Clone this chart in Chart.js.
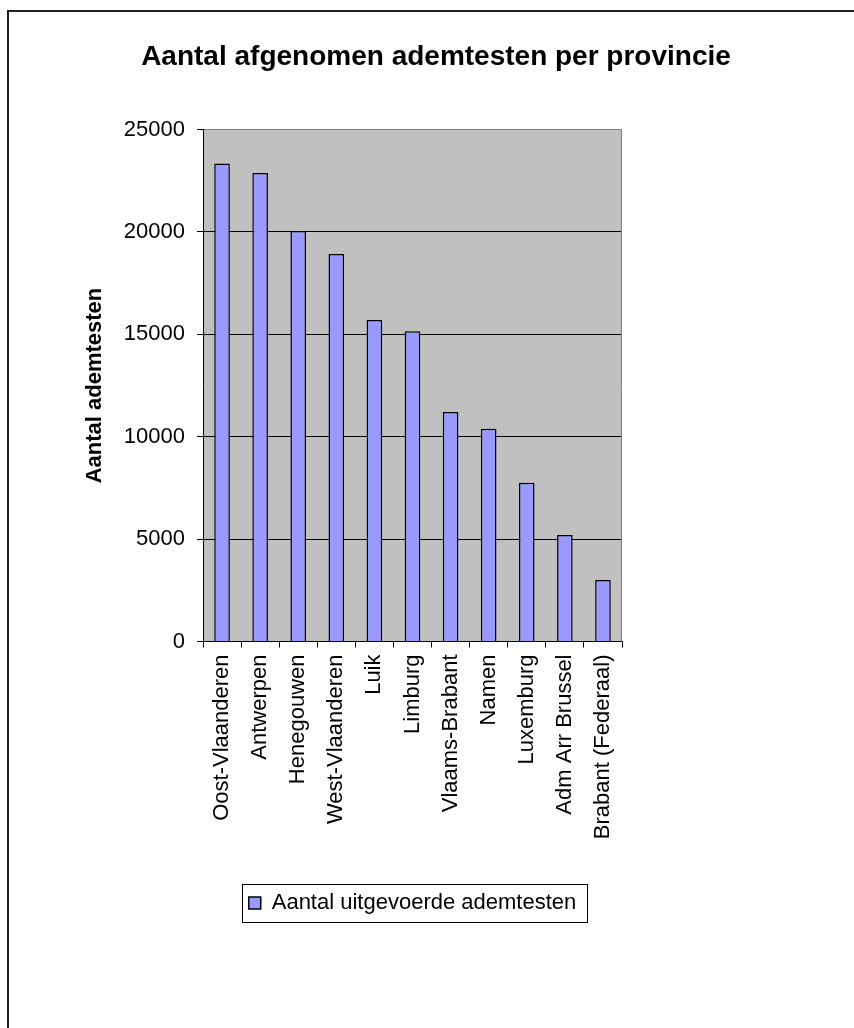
<!DOCTYPE html>
<html>
<head>
<meta charset="utf-8">
<title>Aantal afgenomen ademtesten per provincie</title>
<script src="https://cdn.jsdelivr.net/npm/chart.js@4"></script>
<style>
  html, body { margin: 0; padding: 0; background: #fff; }
  #wrap { position: relative; width: 854px; height: 1028px; }
</style>
</head>
<body>
<div id="wrap"><canvas id="chart"></canvas></div>
<script>
// data
const provinces = ['Oost-Vlaanderen', 'Antwerpen', 'Henegouwen', 'West-Vlaanderen', 'Luik', 'Limburg',
  'Vlaams-Brabant', 'Namen', 'Luxemburg', 'Adm Arr Brussel', 'Brabant (Federaal)'];
const breathTests = [23350, 22880, 20050, 18930, 15700, 15150, 11210, 10390, 7750, 5200, 3000];
const yMin = 0;
const yMax = 25000;
const yStep = 5000;
const chartTitle = 'Aantal afgenomen ademtesten per provincie';
const yAxisTitle = 'Aantal ademtesten';
const seriesName = 'Aantal uitgevoerde ademtesten';

const FONT = "'Liberation Sans', Arial, sans-serif";

// white page, outer frame, grey plot area and a box around the legend
const chartFrame = {
  id: 'chartFrame',
  beforeDraw(chart) {
    const { ctx, chartArea: a } = chart;
    ctx.save();
    ctx.fillStyle = '#fff';
    ctx.fillRect(0, 0, chart.width, chart.height);
    ctx.strokeStyle = '#222';
    ctx.lineWidth = 2;
    ctx.beginPath();
    ctx.moveTo(8, chart.height);
    ctx.lineTo(8, 11);
    ctx.lineTo(chart.width, 11);
    ctx.stroke();
    ctx.fillStyle = '#c0c0c0';
    ctx.fillRect(a.left, a.top, a.right - a.left, a.bottom - a.top);
    ctx.restore();
  },
  beforeDatasetsDraw(chart) {
    const { ctx, chartArea: a } = chart;
    ctx.save();
    ctx.strokeStyle = '#808080';
    ctx.lineWidth = 1;
    ctx.beginPath();
    ctx.moveTo(a.right - 0.5, a.top);
    ctx.lineTo(a.right - 0.5, a.bottom);
    ctx.stroke();
    ctx.restore();
  },
  afterDraw(chart) {
    const hb = chart.legend && chart.legend.legendHitBoxes && chart.legend.legendHitBoxes[0];
    if (!hb) return;
    const { ctx } = chart;
    ctx.save();
    ctx.strokeStyle = '#000';
    ctx.lineWidth = 1;
    ctx.strokeRect(Math.round(hb.left - 7) + 0.5, Math.round(hb.top - 8) + 0.5,
      Math.round(hb.width + 17), Math.round(hb.height + 16));
    ctx.restore();
  }
};

const ctx = document.getElementById('chart').getContext('2d');
const chart = new Chart(ctx, {
  type: 'bar',
  data: {
    labels: provinces,
    datasets: [{
      label: seriesName,
      data: breathTests,
      backgroundColor: '#9999ff',
      borderColor: '#000',
      borderWidth: 1.5,
      barPercentage: 0.41,
      categoryPercentage: 1.0
    }]
  },
  options: {
    responsive: true,
    maintainAspectRatio: false,
    animation: false,
    layout: { padding: { left: 18, right: 0, top: 0, bottom: 104 } },
    plugins: {
      title: {
        display: true,
        text: chartTitle,
        color: '#000',
        font: { family: FONT, size: 28, weight: 'bold', lineHeight: 1.2 },
        padding: { top: 40, bottom: 56 }
      },
      legend: {
        position: 'bottom',
        fullSize: false,
        labels: {
          color: '#000',
          font: { family: FONT, size: 22 },
          boxWidth: 12,
          boxHeight: 12,
          padding: 10
        }
      },
      tooltip: { enabled: false }
    },
    scales: {
      x: {
        grid: { drawOnChartArea: false, drawTicks: true, tickLength: 6, color: '#000', offset: true },
        border: { color: '#000', width: 1 },
        ticks: {
          color: '#000',
          font: { family: FONT, size: 22 },
          minRotation: 90,
          maxRotation: 90,
          autoSkip: false,
          padding: 7
        },
        afterFit(scale) { scale.height = 240.5; }
      },
      y: {
        min: yMin,
        max: yMax,
        ticks: {
          stepSize: yStep,
          color: '#000',
          font: { family: FONT, size: 22 },
          padding: 12,
          callback: (v) => String(v)
        },
        grid: {
          color: (c) => (c.tick && c.tick.value === yMax ? '#808080' : '#000'),
          tickColor: '#000',
          tickLength: 6,
          drawTicks: true
        },
        border: { color: '#000', width: 1 },
        title: {
          display: true,
          text: yAxisTitle,
          color: '#000',
          font: { family: FONT, size: 22, weight: 'bold', lineHeight: 1.2 },
          padding: { top: 64, bottom: 0 }
        },
        afterFit(scale) { scale.width = 185; }
      },
      // empty right-hand box so the plot area ends where the reference's does
      pad: {
        type: 'linear',
        axis: 'y',
        position: 'right',
        display: true,
        grid: { display: false },
        ticks: { display: false },
        border: { display: false },
        afterFit(scale) { scale.width = 232; }
      }
    }
  },
  plugins: [chartFrame]
});
</script>
</body>
</html>
